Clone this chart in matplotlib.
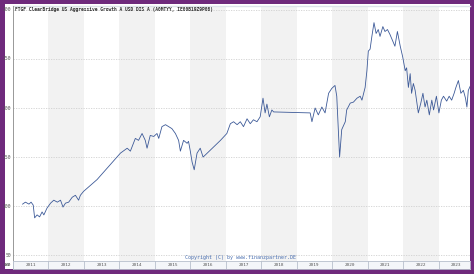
import matplotlib
matplotlib.use("Agg")
import matplotlib.pyplot as plt
from matplotlib.patches import Rectangle

title = "FTGF ClearBridge US Aggressive Growth A USD DIS A (A0MTYY, IE00B19Z9P08)"
copyright_text = "Copyright (C) by www.finanzpartner.DE"

years = [2011, 2012, 2013, 2014, 2015, 2016, 2017, 2018, 2019, 2020, 2021, 2022, 2023]
yticks = [300, 250, 200, 150, 100, 50]

t = [2011.27, 2011.35, 2011.45, 2011.51, 2011.57, 2011.61, 2011.68, 2011.75, 2011.82, 2011.87,
     2011.96, 2012.06, 2012.15, 2012.25, 2012.34, 2012.41, 2012.48, 2012.57, 2012.67, 2012.76,
     2012.85, 2012.90, 2012.99, 2013.18, 2013.37, 2014.03, 2014.22, 2014.31, 2014.45, 2014.54,
     2014.64, 2014.73, 2014.78, 2014.87, 2014.97, 2015.06, 2015.11, 2015.20, 2015.30, 2015.39,
     2015.48, 2015.58, 2015.67, 2015.72, 2015.81, 2015.91, 2015.95, 2016.00, 2016.05, 2016.11,
     2016.19, 2016.28, 2016.36, 2016.42, 2016.85, 2017.03, 2017.13, 2017.22, 2017.32, 2017.41,
     2017.50, 2017.60, 2017.69, 2017.78, 2017.88, 2017.97, 2018.05, 2018.11, 2018.16, 2018.23,
     2018.30, 2018.35, 2019.38, 2019.43, 2019.52, 2019.61, 2019.71, 2019.80, 2019.90, 2019.99,
     2020.08, 2020.13, 2020.21, 2020.27, 2020.37, 2020.41, 2020.51, 2020.60, 2020.70, 2020.79,
     2020.84, 2020.93, 2020.98, 2021.02, 2021.07, 2021.12, 2021.18, 2021.24, 2021.30, 2021.35,
     2021.43, 2021.49, 2021.56, 2021.63, 2021.71, 2021.77, 2021.84, 2021.92, 2021.99, 2022.06,
     2022.10, 2022.15, 2022.20, 2022.24, 2022.29, 2022.34, 2022.38, 2022.43, 2022.50, 2022.56,
     2022.62, 2022.67, 2022.74, 2022.81, 2022.86, 2022.94, 2023.01, 2023.08, 2023.14, 2023.23,
     2023.30, 2023.37, 2023.44, 2023.49, 2023.56, 2023.63, 2023.70, 2023.76, 2023.80, 2023.84,
     2023.89]
price = [102, 104, 102, 104, 101, 88, 91, 89, 94, 91,
         98, 103, 106, 104, 106, 99, 103, 104, 109, 111,
         106, 111, 115, 121, 127, 154, 159, 156, 169, 167,
         174, 167, 159, 172, 171, 174, 169, 181, 183, 181,
         179, 174, 167, 156, 167, 164, 166, 156, 145, 137,
         154, 159, 150, 152, 167, 174, 184, 186, 183, 186,
         181, 189, 184, 188, 186, 191, 210, 195, 204, 191,
         198, 196, 195, 186, 200, 193, 201, 195, 215, 220,
         223, 212, 150, 178, 186, 198, 205, 206, 210, 212,
         208, 221, 238, 258, 260, 273, 287, 276, 280, 273,
         283, 278, 280, 275, 268, 263, 278, 263, 252, 238,
         241, 221, 235, 215, 225, 218, 208, 195, 205, 215,
         201, 208, 193, 208, 198, 212, 195, 208, 212, 207,
         212, 208, 215, 221, 228, 215, 218, 210, 201, 218,
         222]

W, H = 474, 274
fig = plt.figure(figsize=(W / 100, H / 100), dpi=100, facecolor="#6f2a7c")
fig.patches.append(Rectangle((5 / W, 5 / H), 465 / W, 265 / H, transform=fig.transFigure,
                             facecolor="white", edgecolor="none", zorder=-10))

x0, x1 = 2011.0, 2011 + (470 - 12.5) / 35.5
ax = fig.add_axes([13 / W, 13 / H, 457 / W, 255 / H])
ax.set_xlim(x0, x1)
ax.set_ylim(44, 304)
ax.set_facecolor("white")
for y in years:
    if (y - 2011) % 2 == 1:
        ax.axvspan(y, y + 1, color="#f2f2f2", lw=0, zorder=0)
for v in yticks:
    ax.axhline(v, color="#d0d0d0", lw=0.6, ls=(0, (1.5, 1.5)), zorder=1)
ax.plot(t, price, color="#3d5a98", lw=0.6, zorder=3)
ax.set_xticks([])
ax.set_yticks([])
for s in ["top", "right", "bottom"]:
    ax.spines[s].set_visible(False)
ax.spines["left"].set_color("#888888")
ax.spines["left"].set_linewidth(0.6)
ax.plot([0, 1], [1, 1], transform=ax.transAxes, color="#dde3ea", lw=1.0, clip_on=False)

for v in yticks:
    ax.text(-1.5 / 457, v, str(v), transform=ax.get_yaxis_transform(), ha="right", va="center",
            fontsize=3.4, color="#555555", family="DejaVu Sans Mono")
ax.text(-1.5 / 457, 40, "USD", transform=ax.get_yaxis_transform(), ha="right", va="center",
        fontsize=3.0, color="#555555", family="DejaVu Sans Mono")

ax.text(0.004, 0.995, title, transform=ax.transAxes, ha="left", va="top", fontsize=3.35,
        fontweight="bold", color="#333333", family="DejaVu Sans Mono")
ax.text(240 / W, 16.5 / H, copyright_text, transform=fig.transFigure, ha="center", va="center",
        fontsize=3.6, color="#4a6fb0", family="DejaVu Sans Mono")

bx = fig.add_axes([13 / W, 5 / H, 457 / W, 8 / H])
bx.set_xlim(x0, x1)
bx.set_ylim(0, 1)
bx.set_facecolor("#f4f6f9")
bx.set_xticks([])
bx.set_yticks([])
for s in bx.spines.values():
    s.set_color("#b8c0cc")
    s.set_linewidth(0.6)
for y in years:
    bx.axvline(y, color="#b8c0cc", lw=0.6)
    bx.text(y + 0.5, 0.5, str(y), ha="center", va="center", fontsize=3.2,
            color="#555555", family="DejaVu Sans Mono", clip_on=True)
fig.text(8 / W, 9 / H, "WV", ha="center", va="center", fontsize=3.0, color="#555555",
         family="DejaVu Sans Mono")

fig.savefig("out.png", dpi=100, facecolor=fig.get_facecolor())
